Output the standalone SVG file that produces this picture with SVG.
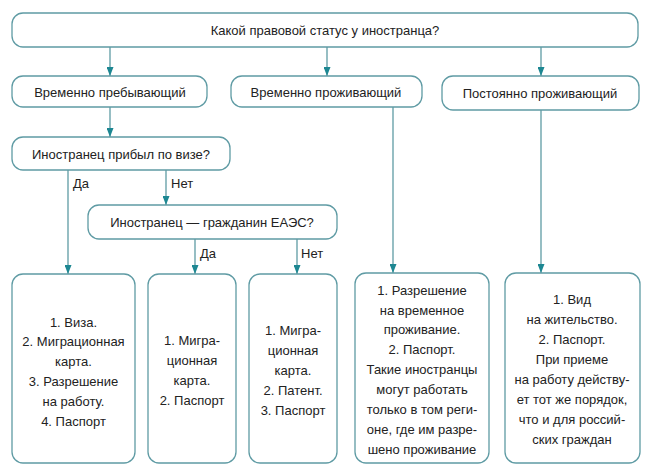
<svg xmlns="http://www.w3.org/2000/svg" width="652" height="473" viewBox="0 0 652 473">
<defs>
<style>
.box{fill:#fff;stroke:#5f9ba4;stroke-width:1.3}
.ln{stroke:#5f9ba4;stroke-width:1.3;fill:none}
.t{font-family:"Liberation Sans",Arial,sans-serif;font-size:13px;fill:#222;text-anchor:middle}
.lbl{font-family:"Liberation Sans",Arial,sans-serif;font-size:13px;fill:#222}
</style>
<marker id="ah" markerWidth="9" markerHeight="7" refX="9" refY="3.5" orient="auto" markerUnits="userSpaceOnUse" viewBox="0 0 9 7">
<path d="M0,0 L9,3.5 L0,7 Z" fill="#1d8792"/>
</marker>
</defs>
<rect width="652" height="473" fill="#fff"/>
<g id="connectors">
<line class="ln" x1="110" y1="47" x2="110" y2="76" marker-end="url(#ah)"/>
<line class="ln" x1="327" y1="47" x2="327" y2="76" marker-end="url(#ah)"/>
<line class="ln" x1="541" y1="47" x2="541" y2="76" marker-end="url(#ah)"/>
<line class="ln" x1="110" y1="107" x2="110" y2="137" marker-end="url(#ah)"/>
<line class="ln" x1="68" y1="170" x2="68" y2="274" marker-end="url(#ah)"/>
<line class="ln" x1="166" y1="170" x2="166" y2="205" marker-end="url(#ah)"/>
<line class="ln" x1="195" y1="239" x2="195" y2="274" marker-end="url(#ah)"/>
<line class="ln" x1="297" y1="239" x2="297" y2="274" marker-end="url(#ah)"/>
<line class="ln" x1="393" y1="107" x2="393" y2="273" marker-end="url(#ah)"/>
<line class="ln" x1="541" y1="110" x2="541" y2="273" marker-end="url(#ah)"/>
<text class="lbl" x="73" y="188">Да</text>
<text class="lbl" x="171" y="188">Нет</text>
<text class="lbl" x="200" y="258">Да</text>
<text class="lbl" x="301" y="258">Нет</text>
</g>
<g id="q-status">
<rect class="box" x="12" y="13" width="626" height="34" rx="11"/>
<text class="t" x="325" y="35">Какой правовой статус у иностранца?</text>
</g>
<g id="temp-stay">
<rect class="box" x="12" y="76" width="195" height="31" rx="11"/>
<text class="t" x="110" y="97">Временно пребывающий</text>
</g>
<g id="temp-res">
<rect class="box" x="231" y="76" width="191" height="31" rx="11"/>
<text class="t" x="326" y="97">Временно проживающий</text>
</g>
<g id="perm-res">
<rect class="box" x="442" y="76" width="197" height="34" rx="11"/>
<text class="t" x="540" y="98">Постоянно проживающий</text>
</g>
<g id="q-visa">
<rect class="box" x="12" y="137" width="218" height="33" rx="11"/>
<text class="t" x="121" y="159">Иностранец прибыл по визе?</text>
</g>
<g id="q-eaeu">
<rect class="box" x="88" y="205" width="249" height="34" rx="11"/>
<text class="t" x="212" y="227">Иностранец — гражданин ЕАЭС?</text>
</g>
<g id="docs-visa">
<rect class="box" x="12" y="274" width="123" height="189" rx="11"/>
<text class="t" x="73.5" y="327">1. Виза.</text>
<text class="t" x="73.5" y="346">2. Миграционная</text>
<text class="t" x="73.5" y="366">карта.</text>
<text class="t" x="73.5" y="386">3. Разрешение</text>
<text class="t" x="73.5" y="406">на работу.</text>
<text class="t" x="73.5" y="426">4. Паспорт</text>
</g>
<g id="docs-eaeu">
<rect class="box" x="148" y="274" width="88" height="189" rx="11"/>
<text class="t" x="192" y="345">1. Мигра-</text>
<text class="t" x="192" y="365">ционная</text>
<text class="t" x="192" y="385">карта.</text>
<text class="t" x="192" y="405">2. Паспорт</text>
</g>
<g id="docs-patent">
<rect class="box" x="249" y="274" width="88" height="189" rx="11"/>
<text class="t" x="293" y="335">1. Мигра-</text>
<text class="t" x="293" y="355">ционная</text>
<text class="t" x="293" y="375">карта.</text>
<text class="t" x="293" y="395">2. Патент.</text>
<text class="t" x="293" y="415">3. Паспорт</text>
</g>
<g id="docs-temp-res">
<rect class="box" x="355" y="273" width="134" height="190" rx="11"/>
<text class="t" x="422" y="295">1. Разрешение</text>
<text class="t" x="422" y="315">на временное</text>
<text class="t" x="422" y="334">проживание.</text>
<text class="t" x="422" y="354">2. Паспорт.</text>
<text class="t" x="422" y="374">Такие иностранцы</text>
<text class="t" x="422" y="394">могут работать</text>
<text class="t" x="422" y="414">только в том реги-</text>
<text class="t" x="422" y="434">оне, где им разре-</text>
<text class="t" x="422" y="454">шено проживание</text>
</g>
<g id="docs-perm-res">
<rect class="box" x="505" y="273" width="135" height="190" rx="11"/>
<text class="t" x="572" y="304">1. Вид</text>
<text class="t" x="572" y="324">на жительство.</text>
<text class="t" x="572" y="344">2. Паспорт.</text>
<text class="t" x="572" y="364">При приеме</text>
<text class="t" x="572" y="384">на работу действу-</text>
<text class="t" x="572" y="404">ет тот же порядок,</text>
<text class="t" x="572" y="424">что и для россий-</text>
<text class="t" x="572" y="444">ских граждан</text>
</g>
</svg>
